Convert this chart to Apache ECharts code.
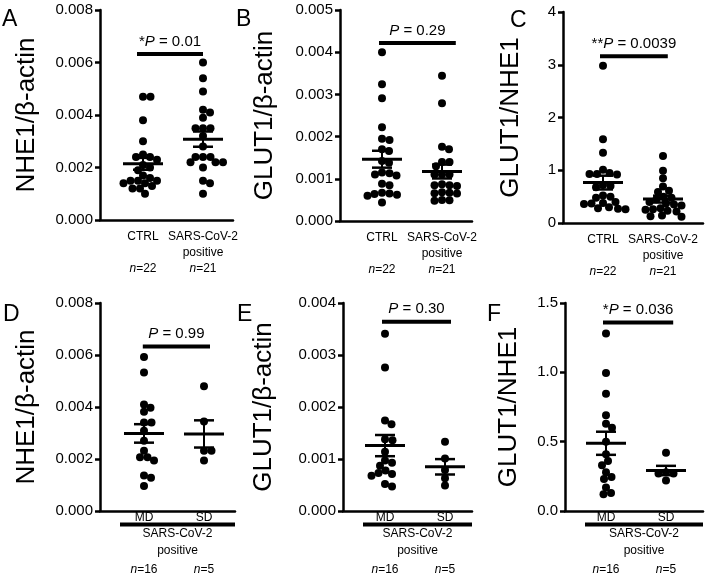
<!DOCTYPE html>
<html><head><meta charset="utf-8">
<script src="https://cdn.jsdelivr.net/npm/echarts@6/dist/echarts.min.js"></script>
<style>html,body{margin:0;padding:0;background:#fff}#c{width:709px;height:583px}</style>
</head><body><div id="c"></div>
<script>
// ---------------- DATA ----------------
const catsTop = ['CTRL', 'SARS-CoV-2\npositive'];
const catsBottom = ['MD', 'SD'];
const nTop = [22, 21];
const nBottom = [16, 5];
const groupLabelBottom = ['SARS-CoV-2', 'positive'];

const A_ctrl = [0.0047, 0.0047, 0.0038, 0.0030, 0.0025, 0.0024, 0.0024, 0.0023, 0.0021, 0.0020, 0.0019, 0.0017, 0.0016, 0.0015, 0.0015, 0.0015, 0.0014, 0.0014, 0.0013, 0.0012, 0.0012, 0.0010];
const A_sars = [0.0060, 0.0054, 0.0049, 0.0042, 0.0041, 0.0039, 0.0035, 0.0035, 0.0035, 0.0032, 0.0028, 0.0024, 0.0024, 0.0024, 0.0022, 0.0022, 0.0022, 0.0020, 0.0015, 0.0014, 0.0010];
const B_ctrl = [0.0040, 0.00324, 0.00291, 0.00222, 0.00195, 0.00192, 0.00170, 0.00166, 0.00142, 0.00138, 0.00115, 0.00113, 0.00110, 0.00108, 0.00088, 0.00085, 0.00067, 0.00065, 0.00064, 0.00062, 0.00060, 0.00044];
const B_sars = [0.00344, 0.00279, 0.00176, 0.00170, 0.00140, 0.00140, 0.00130, 0.00110, 0.00110, 0.00110, 0.00087, 0.00085, 0.00085, 0.00083, 0.00068, 0.00067, 0.00066, 0.00065, 0.00050, 0.00049, 0.00048];
const C_ctrl = [2.98, 1.59, 1.33, 1.01, 0.95, 0.93, 0.93, 0.92, 0.72, 0.70, 0.68, 0.52, 0.50, 0.48, 0.40, 0.38, 0.37, 0.36, 0.30, 0.28, 0.27, 0.26];
const C_sars = [1.27, 0.99, 0.85, 0.69, 0.61, 0.59, 0.50, 0.48, 0.45, 0.40, 0.37, 0.35, 0.33, 0.28, 0.26, 0.25, 0.23, 0.22, 0.14, 0.13, 0.12];
const D_md = [0.00592, 0.00533, 0.0041, 0.00397, 0.00382, 0.0034, 0.0034, 0.00309, 0.0027, 0.00232, 0.00207, 0.00207, 0.00194, 0.00137, 0.00128, 0.00096];
const D_sd = [0.0048, 0.00344, 0.00232, 0.00232, 0.00194];
const E_md = [0.00341, 0.00276, 0.00174, 0.00167, 0.00138, 0.00136, 0.00114, 0.00097, 0.00093, 0.00087, 0.00078, 0.00073, 0.00071, 0.00068, 0.00052, 0.00047];
const E_sd = [0.00133, 0.00101, 0.00079, 0.00063, 0.00049];
const F_md = [1.28, 0.995, 0.845, 0.69, 0.63, 0.60, 0.50, 0.41, 0.36, 0.33, 0.28, 0.245, 0.23, 0.17, 0.13, 0.12];
const F_sd = [0.42, 0.28, 0.27, 0.27, 0.22];

const yTitles = ['NHE1/β-actin', 'GLUT1/β-actin', 'GLUT1/NHE1', 'NHE1/β-actin', 'GLUT1/β-actin', 'GLUT1/NHE1'];
const yMax = [0.008, 0.005, 4, 0.008, 0.004, 1.5];
const yStep = [0.002, 0.001, 1, 0.002, 0.001, 0.5];
const yDecimals = [3, 3, 0, 3, 3, 1];
const pStars = ['*', '', '**', '', '', '*'];
const pValues = ['0.01', '0.29', '0.0039', '0.99', '0.30', '0.036'];
const letters = ['A', 'B', 'C', 'D', 'E', 'F'];

// ---------------- LAYOUT (pixels / styles) ----------------
const FONT = 'Liberation Sans, Arial, Helvetica, sans-serif';
const panels = [
  {ax: 100, top: 10, right: 233, bottom: 220, c1: 143, gap: 60, letter: [2, 8],   sig: [0.9, 2.0, 0.00632], top2: true},
  {ax: 340, top: 10, right: 472, bottom: 221, c1: 382, gap: 62, letter: [236, 8], sig: [0.95, 2.23, 0.00422], top2: true},
  {ax: 563, top: 12, right: 703, bottom: 223, c1: 603, gap: 39, letter: [510, 9], sig: [0.95, 2.08, 3.16], top2: true},
  {ax: 100, top: 303, right: 235, bottom: 511, c1: 144, gap: 60, letter: [3, 303], sig: [0.98, 2.1, 0.00633], top2: false},
  {ax: 343, top: 303, right: 472, bottom: 511, c1: 385, gap: 66, letter: [237, 303], sig: [0.95, 2.1, 0.00364], top2: false},
  {ax: 565, top: 303, right: 703, bottom: 511, c1: 606, gap: 43, letter: [487, 303], sig: [0.95, 2.12, 1.36], top2: false}
];
const SPACING = 60; // px between the two groups

const groups = [[A_ctrl, A_sars], [B_ctrl, B_sars], [C_ctrl, C_sars], [D_md, D_sd], [E_md, E_sd], [F_md, F_sd]];

function mean(a) { return a.reduce((s, v) => s + v, 0) / a.length; }
function sem(a) { const m = mean(a); const v = a.reduce((s, x) => s + (x - m) * (x - m), 0) / (a.length - 1); return Math.sqrt(v / a.length); }

function swarm(values, pxPerUnit, d) {
  const idx = values.map((v, i) => i).sort((a, b) => values[b] - values[a]);
  const placed = [];
  const off = new Array(values.length).fill(0);
  for (const i of idx) {
    const y = values[i] * pxPerUnit;
    for (let k = 0; k < 400; k++) {
      const cand = (k % 2 === 1 ? 1 : -1) * Math.ceil(k / 2) * 0.5;
      let ok = true;
      for (const p of placed) {
        const dx = cand - p[0], dy = y - p[1];
        if (dx * dx + dy * dy < d * d) { ok = false; break; }
      }
      if (ok) { off[i] = cand; placed.push([cand, y]); break; }
    }
  }
  return off;
}

const grids = [], xAxes = [], yAxes = [], series = [], graphics = [];

panels.forEach((p, i) => {
  const w = p.right - p.ax, h = p.bottom - p.top;
  grids.push({left: p.ax, top: p.top, width: w, height: h});
  const xmin = 1 - (p.c1 - p.ax) / SPACING;
  const xmax = xmin + w / SPACING;
  const isTop = p.top2;
  const cats = isTop ? catsTop : catsBottom;
  const ns = isTop ? nTop : nBottom;
  xAxes.push({
    gridIndex: i, type: 'value', min: xmin, max: xmax,
    splitLine: {show: false},
    axisLine: {show: true, onZero: false, lineStyle: {color: '#000', width: 2.5}},
    axisTick: {show: false},
    axisLabel: {
      show: true, customValues: [1, 2], margin: isTop ? 9 : 0, color: '#000',
      formatter: function (v) {
        const k = Math.round(v) - 1;
        if (isTop) {
          const parts = cats[k].split('\n');
          const l2 = parts[1] ? parts[1] : ' ';
          return '{c|' + parts[0] + '}\n{c|' + l2 + '}\n{n|n}{c|=' + ns[k] + '}';
        }
        return '{c|' + cats[k] + '}';
      },
      rich: {
        c: {fontSize: 12, lineHeight: isTop ? 16 : 13, fontFamily: FONT, color: '#000'},
        n: {fontSize: 12, lineHeight: 16, fontStyle: 'italic', fontFamily: FONT, color: '#000'}
      }
    }
  });
  yAxes.push({
    gridIndex: i, type: 'value', min: 0, max: yMax[i], interval: yStep[i],
    name: yTitles[i], nameLocation: 'middle', nameRotate: 90, nameGap: p.gap,
    nameTextStyle: {fontSize: 26, color: '#000', fontFamily: FONT},
    splitLine: {show: false},
    axisLine: {show: true, lineStyle: {color: '#000', width: 2.5}},
    axisTick: {show: true, inside: false, length: 5, lineStyle: {color: '#000', width: 2.5}},
    axisLabel: {fontSize: 15, color: '#000', fontFamily: FONT, margin: 7,
      formatter: v => Number(v).toFixed(yDecimals[i])}
  });
  const pxPerUnit = h / yMax[i];
  groups[i].forEach((vals, g) => {
    const off = swarm(vals, pxPerUnit, 7.2);
    series.push({
      type: 'scatter', xAxisIndex: i, yAxisIndex: i, symbol: 'circle', symbolSize: 8,
      itemStyle: {color: '#000', opacity: 1}, silent: true, z: 2,
      data: vals.map((v, j) => ({value: [g + 1, v], symbolOffset: [off[j], 0]}))
    });
  });
  // mean ± SEM
  series.push({
    type: 'custom', xAxisIndex: i, yAxisIndex: i, z: 3, silent: true,
    data: groups[i].map((vals, g) => [g + 1, mean(vals), sem(vals)]),
    renderItem: function (params, api) {
      const x = api.value(0), m = api.value(1), s = api.value(2);
      const c = api.coord([x, m]), hi = api.coord([x, m + s]), lo = api.coord([x, m - s]);
      const st = w => ({stroke: '#000', lineWidth: w});
      return {type: 'group', children: [
        {type: 'line', shape: {x1: c[0] - 20, y1: c[1], x2: c[0] + 20, y2: c[1]}, style: st(3)},
        {type: 'line', shape: {x1: c[0], y1: hi[1], x2: c[0], y2: lo[1]}, style: st(2)},
        {type: 'line', shape: {x1: c[0] - 10, y1: hi[1], x2: c[0] + 10, y2: hi[1]}, style: st(2.5)},
        {type: 'line', shape: {x1: c[0] - 10, y1: lo[1], x2: c[0] + 10, y2: lo[1]}, style: st(2.5)}
      ]};
    }
  });
  // significance bar + P text
  series.push({
    type: 'custom', xAxisIndex: i, yAxisIndex: i, z: 3, silent: true,
    data: [p.sig],
    renderItem: function (params, api) {
      const a = api.coord([api.value(0), api.value(2)]);
      const b = api.coord([api.value(1), api.value(2)]);
      const star = pStars[i];
      const txt = (star ? '{s|' + star + '}' : '') + '{p|P}{s| = ' + pValues[i] + '}';
      return {type: 'group', children: [
        {type: 'line', shape: {x1: a[0], y1: a[1], x2: b[0], y2: b[1]}, style: {stroke: '#000', lineWidth: 4}},
        {type: 'text', x: (a[0] + b[0]) / 2, y: a[1] - 5, style: {
          text: txt, align: 'center', verticalAlign: 'bottom',
          rich: {s: {fontSize: 15, fontFamily: FONT, fill: '#000'}, p: {fontSize: 15, fontStyle: 'italic', fontFamily: FONT, fill: '#000'}}
        }}
      ]};
    }
  });
  // panel letter
  graphics.push({type: 'text', left: p.letter[0], top: p.letter[1], style: {text: letters[i], font: '23px ' + FONT, fill: '#000'}});
  if (!isTop) {
    const x0 = p.ax + 20, x1 = p.right;
    const cx = (x0 + x1) / 2;
    graphics.push({type: 'line', shape: {x1: x0, y1: 524.5, x2: x1, y2: 524.5}, style: {stroke: '#000', lineWidth: 4}});
    graphics.push({type: 'text', x: cx, y: 534, style: {text: groupLabelBottom[0], align: 'center', verticalAlign: 'middle', font: '12px ' + FONT, fill: '#000'}});
    graphics.push({type: 'text', x: cx, y: 551, style: {text: groupLabelBottom[1], align: 'center', verticalAlign: 'middle', font: '12px ' + FONT, fill: '#000'}});
    ns.forEach((n, k) => {
      graphics.push({type: 'text', x: p.c1 + k * SPACING, y: 570, style: {
        text: '{n|n}{c|=' + n + '}', align: 'center', verticalAlign: 'middle',
        rich: {n: {fontSize: 12, fontStyle: 'italic', fontFamily: FONT, fill: '#000'}, c: {fontSize: 12, fontFamily: FONT, fill: '#000'}}
      }});
    });
  }
});

const chart = echarts.init(document.getElementById('c'), null, {renderer: 'canvas'});
chart.setOption({
  animation: false,
  backgroundColor: '#fff',
  grid: grids, xAxis: xAxes, yAxis: yAxes, series: series, graphic: graphics
});
</script>
</body></html>
